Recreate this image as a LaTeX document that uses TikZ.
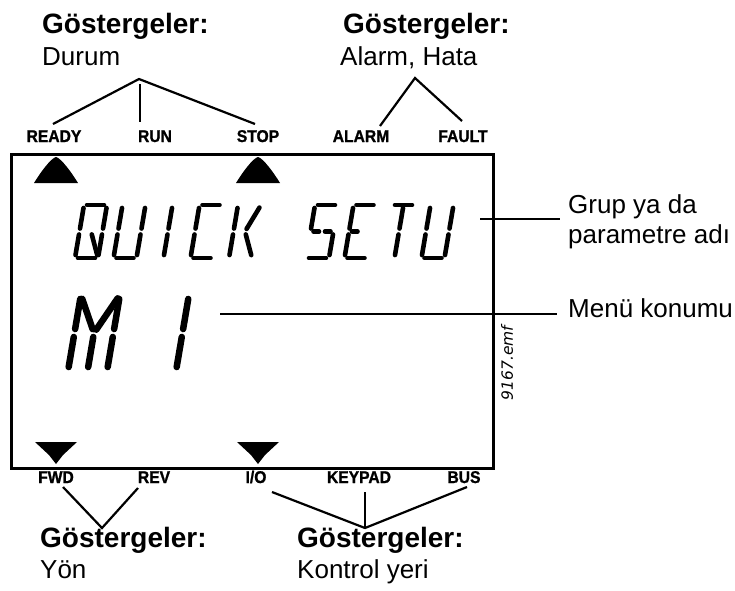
\documentclass[tikz,border=0pt]{standalone}
\usepackage{fontspec}
\setmainfont{Liberation Sans}
\newfontfamily\emffont{DejaVu Sans}
\newfontfamily\indfont[FakeStretch=0.92,FakeBold=1.2]{Liberation Sans Bold}
\tikzset{
  lcdseg/.style={line width=4.6, line cap=round, shorten <=3, shorten >=3},
  big/.style={line width=6.5, line cap=round, shorten <=4, shorten >=4},
  lead/.style={line width=2.2},
  ind/.style={anchor=base, inner sep=0, font=\indfont\fontsize{17}{18}\selectfont},
  ttl/.style={anchor=base west, inner sep=0, font=\bfseries\fontsize{28}{30}\selectfont},
  txt/.style={anchor=base west, inner sep=0, font=\fontsize{26}{30}\selectfont},
}
\def\sga{(0,-\H)--(\W,-\H)}
\def\sgb{(\W,-\H)--(\W,-\H/2)}
\def\sgc{(\W,-\H/2)--(\W,0)}
\def\sgd{(0,0)--(\W,0)}
\def\sge{(0,0)--(0,-\H/2)}
\def\sgf{(0,-\H/2)--(0,-\H)}
\def\sgg{(0,-\H/2)--(\W/2,-\H/2)}
\def\sgG{(\W/2,-\H/2)--(\W,-\H/2)}
\def\sgh{(0,-\H)--(\W/2,-\H/2)}
\def\sgi{(\W/2,-\H)--(\W/2,-\H/2)}
\def\sgj{(\W,-\H)--(\W/2,-\H/2)}
\def\sgk{(\W/2,-\H/2)--(\W,0)}
\def\sgl{(\W/2,-\H/2)--(\W/2,0)}
\def\sgm{(\W/2,-\H/2)--(0,0)}
% #1 style, #2 x0, #3 baseline, #4 W, #5 H, #6 segments
\newcommand\lcdchar[6]{%
  \begin{scope}[shift={(#2,#3)}, xslant=0.17]
    \def\W{#4}\def\H{#5}%
    \foreach \s in {#6}{\edef\tmp{\csname sg\s\endcsname}\draw[#1] \tmp;}
  \end{scope}}
\begin{document}
\begin{tikzpicture}[x=1pt, y=-1pt]
\useasboundingbox (0,0) rectangle (735,590);

% display frame
\node[draw, line width=2.5, minimum width=482, minimum height=314, inner sep=0, anchor=north west] (lcd) at (10,153) {};

% indicator triangles
\foreach \dx in {0,202}{
  \fill[shift={(\dx,0)}] (34,183) .. controls (40,173) and (51,158) .. (56,157)
        .. controls (61,158) and (72,173) .. (78,183) -- cycle;
  \fill[shift={(\dx,0)}] (35,442) -- (77,442) -- (63,455) -- (56,464) -- (49,455) -- cycle;
}

% LCD text row 1: QUICK SETU
\lcdchar{lcdseg}{75}{258}{23}{53}{a,b,c,d,e,f,k}
\lcdchar{lcdseg}{113.5}{258}{23}{53}{b,c,d,e,f}
\lcdchar{lcdseg}{152}{258}{23}{53}{i,l}
\lcdchar{lcdseg}{190.5}{258}{23}{53}{a,d,e,f}
\lcdchar{lcdseg}{229}{258}{23}{53}{e,f,j,k}
\lcdchar{lcdseg}{306}{258}{23}{53}{a,f,g,G,c,d}
\lcdchar{lcdseg}{344.5}{258}{23}{53}{a,f,e,g,d}
\lcdchar{lcdseg}{383}{258}{23}{53}{a,i,l}
\lcdchar{lcdseg}{421.5}{258}{23}{53}{b,c,d,e,f}
% LCD text row 2: M 1
\lcdchar{big}{68}{371}{39}{76}{f,h,j,b,e,l,c}
\lcdchar{big}{157}{371}{38}{76}{i,l}

% indicator labels
\node[ind] (ready) at (54,142) {READY};
\node[ind] (run) at (155,142) {RUN};
\node[ind] (stop) at (258,142) {STOP};
\node[ind] (alarm) at (361,142) {ALARM};
\node[ind] (fault) at (463,142) {FAULT};
\node[ind] (fwd) at (56,483) {FWD};
\node[ind] (rev) at (154,483) {REV};
\node[ind] (io) at (256,483) {I/O};
\node[ind] (keypad) at (359,483) {KEYPAD};
\node[ind] (bus) at (464,483) {BUS};

% titles and texts
\node[ttl] (t1) at (42,33) {Göstergeler:};
\node[txt] (d1) at (42,65) {Durum};
\node[ttl] (t2) at (343,33) {Göstergeler:};
\node[txt] (d2) at (340,65) {Alarm, Hata};
\node[txt] (grp) at (568,213) {Grup ya da};
\node[txt] (par) at (568,243) {parametre adı};
\node[txt] (menu) at (568,317) {Menü konumu};
\node[ttl] (t3) at (40,547) {Göstergeler:};
\node[txt] (d3) at (40,578) {Yön};
\node[ttl] (t4) at (297,547) {Göstergeler:};
\node[txt] (d4) at (297,578) {Kontrol yeri};
\node[rotate=90, inner sep=0, font=\emffont\itshape\fontsize{15.5}{17}\selectfont] (emf) at (507,363) {9167.emf};

% leader coordinates
\coordinate (j1) at (139,79);
\coordinate (j1r) at (53,124);
\coordinate (j1u) at (140,84);
\coordinate (j1s) at (140,122);
\coordinate (j1t) at (255,124);
\coordinate (j2) at (415,78);
\coordinate (j2a) at (380,126);
\coordinate (j2f) at (462,121);
\coordinate (p1) at (480,219);
\coordinate (p2) at (560,219);
\coordinate (m1) at (220,314);
\coordinate (m2) at (557,314);
\coordinate (j3) at (102,528);
\coordinate (j3f) at (63,487);
\coordinate (j3r) at (138,488);
\coordinate (j4) at (365,528);
\coordinate (j4i) at (272,492);
\coordinate (j4k) at (365,492);
\coordinate (j4b) at (467,487);

\draw[lead] (j1r) -- (j1) -- (j1t);
\draw[lead] (j1u) -- (j1s);
\draw[lead] (j2a) -- (j2) -- (j2f);
\draw[lead] (p1) -- (p2);
\draw[lead] (m1) -- (m2);
\draw[lead] (j3f) -- (j3) -- (j3r);
\draw[lead] (j4i) -- (j4) -- (j4b);
\draw[lead] (j4k) -- (j4);
\end{tikzpicture}
\end{document}
